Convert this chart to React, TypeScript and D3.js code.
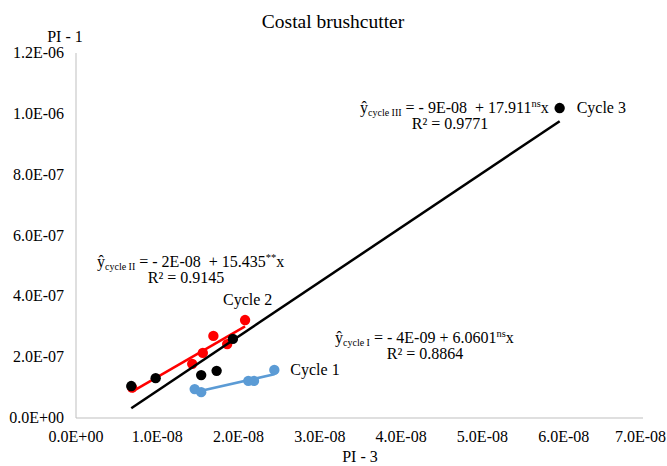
import React from 'react';
import * as d3 from 'd3';

// PI - 3 (x) and PI - 1 (y) per cycle
const cycle1X = [1.46e-8, 1.54e-8, 2.12e-8, 2.19e-8, 2.44e-8];
const cycle1Y = [0.95e-7, 0.85e-7, 1.22e-7, 1.22e-7, 1.58e-7];
const cycle2X = [0.69e-8, 1.43e-8, 1.56e-8, 1.69e-8, 1.86e-8, 2.08e-8];
const cycle2Y = [1.0e-7, 1.78e-7, 2.14e-7, 2.7e-7, 2.43e-7, 3.22e-7];
const cycle3X = [0.68e-8, 0.98e-8, 1.54e-8, 1.73e-8, 1.93e-8, 5.95e-8];
const cycle3Y = [1.05e-7, 1.31e-7, 1.41e-7, 1.55e-7, 2.6e-7, 1.019e-6];

// trendline coefficients [intercept, slope]
const trend1 = [-4e-9, 6.0601];
const trend2 = [-2e-8, 15.435];
const trend3 = [-9e-8, 17.911];

const xTicks = [0, 1e-8, 2e-8, 3e-8, 4e-8, 5e-8, 6e-8, 7e-8];
const xTickLabels = ['0.0E+00', '1.0E-08', '2.0E-08', '3.0E-08', '4.0E-08', '5.0E-08', '6.0E-08', '7.0E-08'];
const yTicks = [0, 2e-7, 4e-7, 6e-7, 8e-7, 1e-6, 1.2e-6];
const yTickLabels = ['0.0E+00', '2.0E-07', '4.0E-07', '6.0E-07', '8.0E-07', '1.0E-06', '1.2E-06'];

const FONT = '"Liberation Serif", "Times New Roman", serif';
const FS = 16;

const series = [
  { name: 'Cycle 1', xs: cycle1X, ys: cycle1Y, trend: trend1, color: '#5b9bd5' },
  { name: 'Cycle 2', xs: cycle2X, ys: cycle2Y, trend: trend2, color: '#ff0000' },
  { name: 'Cycle 3', xs: cycle3X, ys: cycle3Y, trend: trend3, color: '#000000' },
];

const App = () => {
  const width = 667;
  const height = 466;

  const x = d3.scaleLinear().domain([0, 7e-8]).range([76, 645]);
  const y = d3.scaleLinear().domain([0, 1.2e-6]).range([418, 53]);

  const line = d3.line<number[]>()
    .x(d => x(d[0]))
    .y(d => y(d[1]));

  const eq = (sub: string, rest: string, sup: string, px: number, py: number) => (
    <text x={px} y={py} fontSize={FS} style={{ whiteSpace: 'pre' }}>
      <tspan>ŷ</tspan>
      <tspan fontSize={10} dy={3}>{sub}</tspan>
      <tspan dy={-3}>{' = ' + rest}</tspan>
      <tspan fontSize={10.5} dy={-6}>{sup}</tspan>
      <tspan dy={6}>x</tspan>
    </text>
  );

  return (
    <svg width={width} height={height} style={{ position: 'absolute', left: 0, top: 0, background: '#fff' }} fontFamily={FONT}>
      {/* title */}
      <text x={333} y={28} textAnchor="middle" fontSize={19.5}>Costal brushcutter</text>
      <text x={65} y={42} textAnchor="middle" fontSize={FS}>PI - 1</text>
      <text x={360} y={462} textAnchor="middle" fontSize={FS}>PI - 3</text>

      {/* axes */}
      <line x1={x(0)} x2={x(0)} y1={y(1.2e-6)} y2={y(0)} stroke="#bfbfbf" />
      <line x1={x(0)} x2={x(7e-8) - 2} y1={y(0)} y2={y(0)} stroke="#bfbfbf" />

      {yTicks.map((t, i) => (
        <text key={'y' + i} x={64} y={y(t) + 5} textAnchor="end" fontSize={FS}>{yTickLabels[i]}</text>
      ))}
      {xTicks.map((t, i) => {
        // last label would run past the right edge, pin it there
        const last = i === xTicks.length - 1;
        return (
          <text key={'x' + i} x={last ? width - 1 : x(t)} y={442}
            textAnchor={last ? 'end' : 'middle'} fontSize={FS}>{xTickLabels[i]}</text>
        );
      })}

      {/* trendlines and points */}
      {series.map(s => {
        const [lo, hi] = d3.extent(s.xs) as [number, number];
        const pts = [lo, hi].map(v => [v, s.trend[0] + s.trend[1] * v]);
        return (
          <g key={s.name}>
            <path d={line(pts) || ''} stroke={s.color} strokeWidth={2.5} fill="none" />
            {s.xs.map((v, i) => (
              <circle key={i} cx={x(v)} cy={y(s.ys[i])} r={5.2} fill={s.color} />
            ))}
          </g>
        );
      })}

      {/* series labels */}
      <text x={x(2.44e-8) + 16} y={y(1.58e-7) + 5} fontSize={FS}>Cycle 1</text>
      <text x={223} y={305} fontSize={FS}>Cycle 2</text>
      <text x={x(5.95e-8) + 17} y={y(1.019e-6) + 5} fontSize={FS}>Cycle 3</text>

      {/* equations */}
      {eq('cycle III', '- 9E-08  + 17.911', 'ns', 360, 113)}
      <text x={450} y={129} textAnchor="middle" fontSize={FS}>R² = 0.9771</text>
      {eq('cycle II', '- 2E-08  + 15.435', '**', 97, 267)}
      <text x={186} y={283} textAnchor="middle" fontSize={FS}>R² = 0.9145</text>
      {eq('cycle I', '- 4E-09 + 6.0601', 'ns', 335, 343)}
      <text x={425} y={359} textAnchor="middle" fontSize={FS}>R² = 0.8864</text>
    </svg>
  );
};

export default App;
